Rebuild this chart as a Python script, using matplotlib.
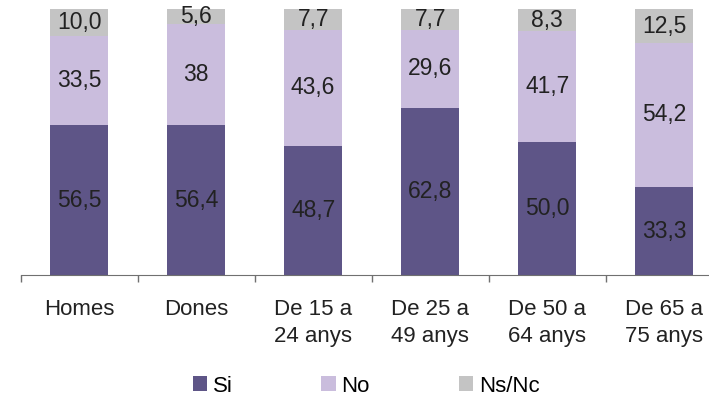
import numpy as np
from matplotlib import pyplot as plt

plt.rcParams['font.family'] = ['Liberation Sans', 'DejaVu Sans']

categories = ["Homes", "Dones", "De 15 a\n24 anys", "De 25 a\n49 anys",
              "De 50 a\n64 anys", "De 65 a\n75 anys"]
si = [56.5, 56.4, 48.7, 62.8, 50.0, 33.3]
no = [33.5, 38, 43.6, 29.6, 41.7, 54.2]
ns_nc = [10.0, 5.6, 7.7, 7.7, 8.3, 12.5]

series = [("Si", si, "#5E5587"), ("No", no, "#CABDDD"), ("Ns/Nc", ns_nc, "#C4C4C4")]


def fmt(v):
    # whole numbers are printed bare, the rest with a decimal comma
    if isinstance(v, int):
        return str(v)
    return f"{v:.1f}".replace(".", ",")


fig = plt.figure(figsize=(7.09, 3.98), dpi=100)
ax = fig.add_axes([0.0292, 0.3083, 0.990, 0.668])

x = np.arange(len(categories))
bottom = np.zeros(len(categories))
handles = []
for name, vals, color in series:
    vals_arr = np.array(vals, dtype=float)
    bars = ax.bar(x, vals_arr, 0.5, bottom=bottom, color=color, label=name)
    handles.append(bars)
    for xi, b, v in zip(x, bottom, vals):
        ax.text(xi, b + v / 2, fmt(v), ha="center", va="center",
                fontsize=16.5, color="#222222")
    bottom += vals_arr

ax.set_xlim(-0.5, len(categories) - 0.5)
ax.set_ylim(0, 100)

for side in ["left", "top", "right"]:
    ax.spines[side].set_visible(False)
ax.spines["bottom"].set_color("#707070")
ax.set_yticks([])

ax.set_xticks(x)
ax.set_xticklabels(categories, fontsize=16, color="#222222", linespacing=1.4)
ax.tick_params(axis="x", which="major", length=0, pad=17)
ax.set_xticks(np.arange(-0.5, len(categories)), minor=True)
ax.tick_params(axis="x", which="minor", length=5, color="#707070", width=1)

fig.legend(handles=handles, loc="center", bbox_to_anchor=(366 / 709, 1 - 386 / 398),
           ncol=3, frameon=False, fontsize=16, handlelength=0.65, handleheight=0.65,
           handletextpad=0.25, columnspacing=4.0, borderpad=0, borderaxespad=0)

fig.savefig("out.png", dpi=100)
